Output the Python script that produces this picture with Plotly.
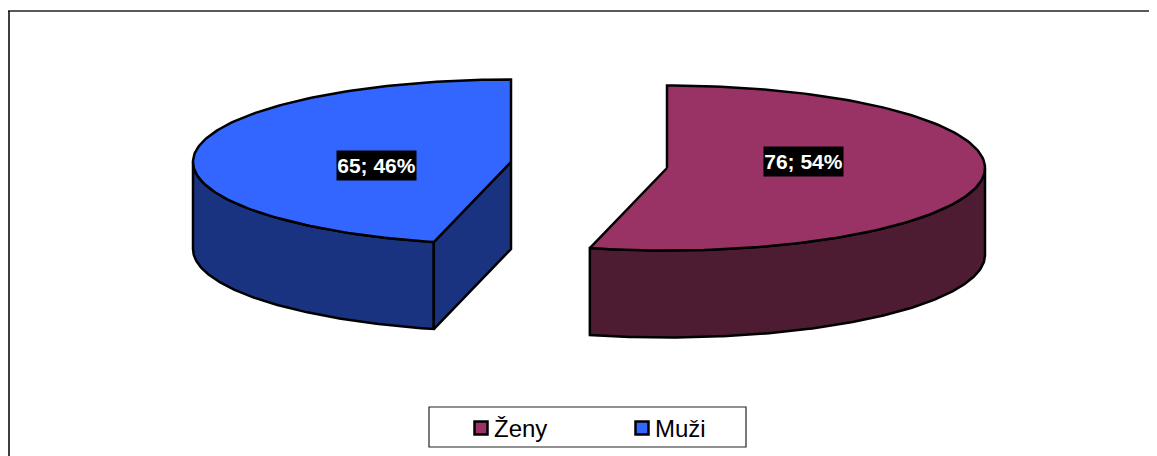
import numpy as np
import plotly.graph_objects as go

categories = ["Ženy", "Muži"]
values = [76, 65]
labels = ["76; 54%", "65; 46%"]
top_colors = ["#993366", "#3366FF"]
side_colors = ["#4D1C33", "#1A3380"]

W, H = 1157, 456
PAGE_MARGIN = 8  # the page's own body margin
centers = [(667.0, 168.0), (511.0, 162.0)]
RX, RY, DEPTH = 318.0, 82.5, 87.0
label_pos = [(803.5, 161.0), (376.5, 165.5)]
legend_box = (429, 407, 746, 447)
legend_swatch_x = [481, 642]
legend_text_x = [494, 655]
legend_y = 428


def pt(c, deg):
    t = np.radians(deg)
    return c[0] + RX * np.sin(t), c[1] - RY * np.cos(t)


def arc(c, a, b, n=160):
    x, y = pt(c, np.linspace(a, b, n))
    return list(x), list(y)


def poly(fig, xs, ys, color):
    fig.add_trace(go.Scatter(
        x=xs + xs[:1], y=ys + ys[:1], mode="lines", fill="toself", fillcolor=color,
        line=dict(color="#000000", width=2.5), hoverinfo="skip", showlegend=False))


fig = go.Figure()
total = sum(values)
start = 0.0
for i, v in enumerate(values):
    end = start + 360.0 * v / total
    c = centers[i]
    ax, ay = arc(c, start, end)

    # outer wall: the part of the rim that faces the viewer (90..270 degrees)
    lo, hi = max(start, 90.0), min(end, 270.0)
    if hi > lo:
        wx, wy = arc(c, lo, hi)
        poly(fig, wx + wx[::-1], wy + [y + DEPTH for y in wy[::-1]], side_colors[i])

    # cut faces, only those that face the viewer
    for ang in (start, end):
        px, py = pt(c, ang)
        if (ang == start and 180 < ang % 360 < 360) or (ang == end and 0 < ang % 360 < 180):
            poly(fig, [c[0], float(px), float(px), c[0]],
                 [c[1], float(py), float(py) + DEPTH, c[1] + DEPTH], side_colors[i])

    # top face
    poly(fig, [c[0]] + ax, [c[1]] + ay, top_colors[i])

    fig.add_annotation(x=label_pos[i][0], y=label_pos[i][1], text=f"<b>{labels[i]}</b>",
                       showarrow=False, bgcolor="#000000", borderpad=0, width=79, height=29,
                       font=dict(family="Liberation Sans", size=21, color="#FFFFFF"))
    start = end

# legend: box, swatches and names
fig.add_shape(type="rect", x0=legend_box[0], y0=legend_box[1], x1=legend_box[2], y1=legend_box[3],
              line=dict(color="#222222", width=1.2), fillcolor="#FFFFFF", layer="below")
for name, col, sx, tx in zip(categories, top_colors, legend_swatch_x, legend_text_x):
    fig.add_trace(go.Scatter(
        x=[sx], y=[legend_y], mode="markers", name=name, showlegend=False, hoverinfo="name",
        marker=dict(symbol="square", size=13, color=col, line=dict(color="#000000", width=2.5))))
    fig.add_annotation(x=tx, y=legend_y, text=name, showarrow=False, xanchor="left", borderpad=0,
                       xshift=-1,
                       font=dict(family="Liberation Sans", size=24, color="#000000"))

# chart-area frame: only the top and left edges are visible
fig.add_shape(type="line", x0=8, x1=W, y0=11, y1=11, line=dict(color="#222222", width=1.5))
fig.add_shape(type="line", x0=9, x1=9, y0=11, y1=H, line=dict(color="#000000", width=1.5))

fig.update_layout(
    width=W - PAGE_MARGIN, height=H - PAGE_MARGIN, autosize=False,
    margin=dict(l=0, r=0, t=0, b=0), showlegend=False,
    paper_bgcolor="#FFFFFF", plot_bgcolor="#FFFFFF",
    xaxis=dict(range=[PAGE_MARGIN, W], visible=False, fixedrange=True),
    yaxis=dict(range=[H, PAGE_MARGIN], visible=False, fixedrange=True),
)
fig.write_html("out.html")
